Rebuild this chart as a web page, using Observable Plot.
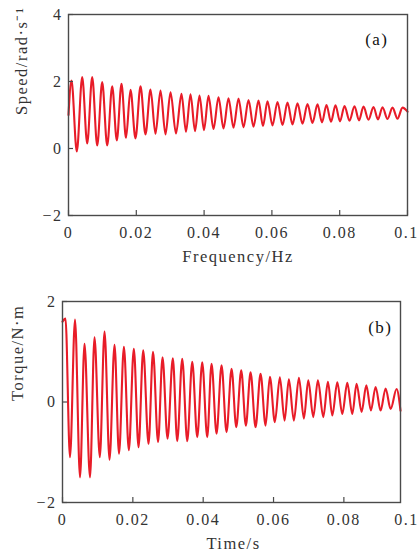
<!DOCTYPE html>
<html>
<head>
<meta charset="utf-8">
<script src="https://cdn.jsdelivr.net/npm/d3@7"></script>
<script src="https://cdn.jsdelivr.net/npm/@observablehq/plot@0.6"></script>
<style>
  html, body { margin: 0; padding: 0; background: #fff; }
  svg { display: block; }
</style>
</head>
<body>
<div id="chart"></div>
<script>
// ---------- Panel (a): speed ----------
const speedPeakT = [0.00088,0.00404,0.00699,0.00994,0.01289,0.01563,0.01829,0.02124,0.02419,0.02714,0.03009,0.03333,0.03599,0.03864,0.0413,0.04425,0.0472,0.05015,0.0531,0.05605,0.0587,0.06165,0.0646,0.06755,0.0705,0.07345,0.0761,0.07876,0.08142,0.08437,0.08702,0.08997,0.09263,0.09558,0.09853];
const speedPeakV = [2.03,2.13,2.13,1.98,1.86,1.93,1.75,1.86,1.76,1.73,1.68,1.63,1.62,1.58,1.57,1.53,1.5,1.49,1.45,1.43,1.41,1.39,1.37,1.35,1.33,1.32,1.3,1.29,1.27,1.26,1.25,1.24,1.23,1.22,1.22];
const speedTroughT = [0.00245,0.00552,0.00847,0.01142,0.01425,0.01696,0.01976,0.02271,0.02566,0.02861,0.03171,0.03466,0.03732,0.03997,0.04277,0.04572,0.04867,0.05162,0.05457,0.05737,0.06018,0.06313,0.06608,0.06903,0.07198,0.07478,0.07743,0.08009,0.08289,0.08569,0.0885,0.0913,0.0941,0.09705];
const speedTroughV = [-0.09,0.15,0.09,0.09,0.24,0.32,0.3,0.42,0.44,0.42,0.45,0.5,0.52,0.55,0.58,0.6,0.62,0.63,0.65,0.67,0.69,0.7,0.72,0.74,0.76,0.78,0.8,0.81,0.83,0.84,0.86,0.87,0.88,0.89];
const speedStart = [0, 1.0];
const speedEnd = [0.1, 1.1];
const speedXTicks = [0, 0.02, 0.04, 0.06, 0.08, 0.1];
const speedXTickLabels = ["0", "0.02", "0.04", "0.06", "0.08", "0.1"];
const speedYTicks = [-2, 0, 2, 4];
const speedYTickLabels = ["−2", "0", "2", "4"];

// ---------- Panel (b): torque ----------
const torquePeakT = [0.00085,0.00356,0.00626,0.0091,0.01195,0.01479,0.01746,0.02028,0.02295,0.02574,0.02844,0.03137,0.03404,0.03689,0.03973,0.04238,0.04522,0.04807,0.05082,0.05347,0.05631,0.05896,0.0618,0.06436,0.06721,0.06988,0.07261,0.07546,0.07813,0.08097,0.08362,0.08638,0.08902,0.09187,0.09499];
const torquePeakV = [1.66,1.64,1.16,1.29,1.4,1.14,1.1,1.06,1.03,1.0,0.89,0.87,0.86,0.8,0.79,0.76,0.73,0.66,0.63,0.59,0.56,0.5,0.49,0.45,0.48,0.43,0.43,0.4,0.39,0.38,0.36,0.33,0.3,0.27,0.26];
const torqueTroughT = [0.00213,0.00498,0.00782,0.01061,0.01337,0.01607,0.01886,0.02162,0.02446,0.02716,0.02986,0.03262,0.03547,0.03831,0.04115,0.0438,0.04664,0.0494,0.05213,0.05489,0.05774,0.06038,0.06314,0.06578,0.06863,0.0713,0.07415,0.07671,0.07955,0.08239,0.08504,0.08769,0.09044,0.09329];
const torqueTroughV = [-1.1,-1.5,-1.5,-1.1,-1.15,-1.03,-0.96,-0.9,-0.83,-0.8,-0.73,-0.78,-0.78,-0.7,-0.7,-0.63,-0.6,-0.5,-0.47,-0.5,-0.47,-0.4,-0.37,-0.37,-0.33,-0.3,-0.3,-0.27,-0.24,-0.24,-0.2,-0.17,-0.17,-0.14];
const torqueStart = [0, 1.6];
const torqueEnd = [0.0961, -0.17];
const torqueXTicks = [0, 0.02, 0.04, 0.06, 0.08];
const torqueXTickLabels = ["0", "0.02", "0.04", "0.06", "0.08", "0.1"];
const torqueXLabelPos = [0, 0.02, 0.04, 0.06, 0.08, 0.0961];
const torqueYTicks = [-2, 0, 2];
const torqueYTickLabels = ["−2", "0", "2"];

function buildSeries(start, pT, pV, tT, tV, end) {
  const pts = [{t: start[0], v: start[1]}];
  pT.forEach((t, i) => pts.push({t, v: pV[i]}));
  tT.forEach((t, i) => pts.push({t, v: tV[i]}));
  pts.push({t: end[0], v: end[1]});
  return pts.sort((a, b) => a.t - b.t);
}

const speedData = buildSeries(speedStart, speedPeakT, speedPeakV, speedTroughT, speedTroughV, speedEnd);
const torqueData = buildSeries(torqueStart, torquePeakT, torquePeakV, torqueTroughT, torqueTroughV, torqueEnd);

const RED = "#e81c28";
const AXIS = "#4a4a4a";
const TXT = "#333";
const baseStyle = {fontFamily: "'Liberation Serif', 'Times New Roman', serif", fontSize: "16px", letterSpacing: "1.5px", background: "#fff", overflow: "visible"};

function panel(o) {
  const plotW = 419 - o.ml - o.mr;
  const plotH = o.height - o.mt - o.mb;
  const n = o.xLabelPos.length;
  return Plot.plot({
    width: 419,
    height: o.height,
    marginLeft: o.ml, marginRight: o.mr, marginTop: o.mt, marginBottom: o.mb,
    style: baseStyle,
    x: {domain: o.xDomain, axis: null},
    y: {domain: o.yDomain, axis: null},
    marks: [
      Plot.line(o.data, {x: "t", y: "v", stroke: RED, strokeWidth: 2.1, curve: "monotone-x"}),
      Plot.frame({stroke: AXIS, strokeWidth: 1.4}),
      Plot.tickX(o.xTicks, {x: d => d, stroke: AXIS, strokeWidth: 1.2, insetTop: plotH - 5}),
      Plot.tickY(o.yTicks, {y: d => d, stroke: AXIS, strokeWidth: 1.2, insetRight: plotW - 5}),
      Plot.text(o.xLabelPos.slice(0, n - 1), {x: d => d, text: (d, i) => o.xTickLabels[i], frameAnchor: "bottom", dy: 17, fill: TXT, lineAnchor: "middle"}),
      Plot.text(o.xLabelPos.slice(n - 1), {x: d => d, text: () => o.xTickLabels[n - 1], frameAnchor: "bottom", dy: 17, dx: o.lastDx, fill: TXT, lineAnchor: "middle"}),
      Plot.text(o.yTicks, {y: d => d, text: (d, i) => o.yTickLabels[i], frameAnchor: "left", dx: o.yLabelDx, textAnchor: "end", fill: TXT}),
      Plot.text([o.xTitle], {frameAnchor: "bottom", dy: 46, dx: o.xTitleDx, fill: TXT, fontSize: 16.5}),
      Plot.text([o.yTitle], {frameAnchor: "left", rotate: -90, dx: o.yTitleDx, dy: o.yTitleDy, fill: TXT, fontSize: 16.5}),
      Plot.text([o.tag], {frameAnchor: "top-right", dx: o.tagDx, dy: o.tagDy, fill: "#111", fontSize: 17})
    ]
  });
}

const speedChart = panel({
  height: 280, ml: 68, mr: 12, mt: 14, mb: 65,
  data: speedData, xDomain: [0, 0.1], yDomain: [-2, 4],
  xTicks: speedXTicks, xLabelPos: speedXTicks, xTickLabels: speedXTickLabels, lastDx: -1,
  yTicks: speedYTicks, yTickLabels: speedYTickLabels, yLabelDx: -6,
  xTitle: "Frequency/Hz", xTitleDx: 0,
  yTitle: "Speed/rad·s⁻¹", yTitleDx: -47, yTitleDy: 0,
  tag: "(a)", tagDx: -19, tagDy: 18
});

const torqueChart = panel({
  height: 279, ml: 62, mr: 19, mt: 21, mb: 57,
  data: torqueData, xDomain: [0, 0.0961], yDomain: [-2, 2],
  xTicks: torqueXTicks, xLabelPos: torqueXLabelPos, xTickLabels: torqueXTickLabels, lastDx: 6,
  yTicks: torqueYTicks, yTickLabels: torqueYTickLabels, yLabelDx: -6,
  xTitle: "Time/s", xTitleDx: 2,
  yTitle: "Torque/N·m", yTitleDx: -45, yTitleDy: -1,
  tag: "(b)", tagDx: -8, tagDy: 19
});

const el = document.getElementById("chart");
el.appendChild(speedChart);
el.appendChild(torqueChart);
</script>
</body>
</html>
